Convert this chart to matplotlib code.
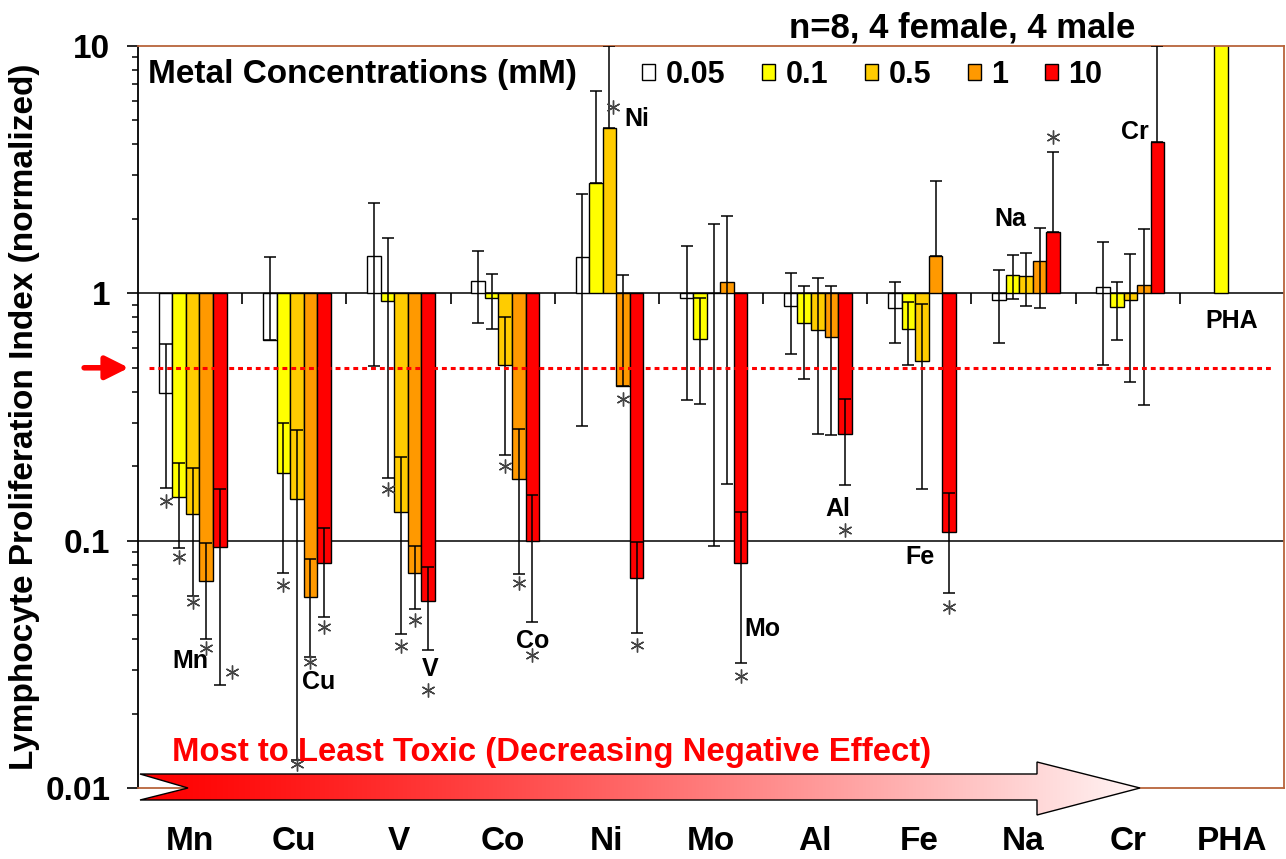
import numpy as np
import matplotlib
matplotlib.use('Agg')
import matplotlib.pyplot as plt
from matplotlib.patches import Polygon, Patch
from matplotlib.transforms import offset_copy
from matplotlib.ticker import NullFormatter

plt.rcParams['font.family'] = 'Liberation Sans'
plt.rcParams['font.weight'] = 'bold'
plt.rcParams['axes.labelweight'] = 'bold'

# ============================================================
# DATA (normalized index, mean and SD)
# ============================================================
metals = ['Mn', 'Cu', 'V', 'Co', 'Ni', 'Mo', 'Al', 'Fe', 'Na', 'Cr', 'PHA']
conc_labels = ['0.05', '0.1', '0.5', '1', '10']

nan = np.nan
mean_005 = [0.394, 0.646, 1.41, 1.12, 1.40, 0.96, 0.89, 0.872, 0.937, 1.065, nan]
mean_01  = [0.150, 0.187, 0.93, 0.955, 2.80, 0.656, 0.76, 0.72, 1.19, 0.88, 20.0]
mean_05  = [0.128, 0.147, 0.130, 0.512, 4.67, 1.0, 0.71, 0.532, 1.17, 0.94, nan]
mean_1   = [0.069, 0.059, 0.074, 0.178, 0.421, 1.11, 0.667, 1.42, 1.35, 1.084, nan]
mean_10  = [0.094, 0.081, 0.057, 0.100, 0.0705, 0.081, 0.271, 0.1085, 1.775, 4.10, nan]

sd_005 = [0.23, 0.75, 0.90, 0.36, 1.11, 0.59, 0.32, 0.24, 0.305, 0.55, nan]
sd_01  = [0.057, 0.113, 0.75, 0.24, 3.77, 0.30, 0.31, 0.205, 0.24, 0.235, nan]
sd_05  = [0.068, 0.134, 0.088, 0.29, 5.33, 0.905, 0.44, 0.37, 0.28, 0.50, nan]
sd_1   = [0.029, 0.025, 0.021, 0.105, 0.77, 0.94, 0.40, 1.43, 0.48, 0.73, nan]
sd_10  = [0.068, 0.032, 0.021, 0.053, 0.028, 0.049, 0.103, 0.047, 1.96, 5.90, nan]

means = [mean_005, mean_01, mean_05, mean_1, mean_10]
sds = [sd_005, sd_01, sd_05, sd_1, sd_10]

# significant results: (metal, concentration index, anchor)
signif = [('Mn', 0, 'low'), ('Mn', 1, 'low'), ('Mn', 2, 'low'), ('Mn', 3, 'low'), ('Mn', 4, 'low'),
          ('Cu', 1, 'low'), ('Cu', 2, 'low'), ('Cu', 3, 'low'), ('Cu', 4, 'low'),
          ('V', 1, 'low'), ('V', 2, 'low'), ('V', 3, 'low'), ('V', 4, 'low'),
          ('Co', 2, 'low'), ('Co', 3, 'low'), ('Co', 4, 'low'),
          ('Ni', 2, 'end'), ('Ni', 3, 'end'), ('Ni', 4, 'low'),
          ('Mo', 4, 'low'), ('Al', 4, 'low'), ('Fe', 4, 'low'), ('Na', 4, 'high')]

# ============================================================
# STYLE / LAYOUT
# ============================================================
bar_colors = ['white', '#FFFF00', '#FFCC00', '#FF9900', '#FF0000']
brown = '#B8643C'
W, H = 1286, 859
bw = 0.13
shift = 0.025

# star offsets in pixels (dx, dy) relative to anchor
star_off = {('Mn', 0): (0, -13), ('Mn', 1): (0, -9), ('Mn', 2): (0, -6), ('Mn', 3): (0, -9),
            ('Mn', 4): (12, 13), ('Cu', 1): (0, -12), ('Cu', 2): (0, -4), ('Cu', 3): (0, -5),
            ('Cu', 4): (0, -10), ('V', 1): (0, -11), ('V', 2): (0, -12), ('V', 3): (0, -11),
            ('V', 4): (0, -40), ('Co', 2): (0, -11), ('Co', 3): (0, -9), ('Co', 4): (0, -33),
            ('Ni', 2): (4, 21), ('Ni', 3): (0, -13), ('Ni', 4): (0, -12), ('Mo', 4): (0, -13),
            ('Al', 4): (0, -45), ('Fe', 4): (0, -14), ('Na', 4): (0, 15)}

# element name labels (x in category units, y in data units)
name_pos = {'Mn': (0.0, 0.0326), 'Cu': (1.23, 0.0268), 'V': (2.30, 0.0303), 'Co': (3.29, 0.0393),
            'Ni': (4.29, 5.05), 'Mo': (5.49, 0.0439), 'Al': (6.22, 0.134), 'Fe': (7.01, 0.0858),
            'Na': (7.87, 1.99), 'Cr': (9.07, 4.51), 'PHA': (10.0, 0.77)}

fig = plt.figure(figsize=(W / 100, H / 100), dpi=100)
ax = fig.add_axes([138 / W, 1 - 788 / H, 1146 / W, 742 / H])
ax.set_yscale('log')

x = np.arange(len(metals))

ax.axhline(1, color='black', lw=1.1, zorder=1)
ax.axhline(0.1, color='black', lw=1.1, zorder=1)

for j in range(5):
    v = np.array(means[j], float)
    e = np.array(sds[j], float)
    xs = x + (j - 2) * bw + shift
    ax.bar(xs, v - 1, bottom=1, width=bw, color=bar_colors[j],
           edgecolor='black', lw=1.0, zorder=2)
    lo = np.where(v - e > 0, e, 0.0)
    ok = ~np.isnan(e)
    ax.errorbar(xs[ok], v[ok], yerr=[lo[ok], e[ok]], fmt='none', ecolor='black',
                elinewidth=1.1, capsize=4, capthick=1.1, zorder=3)

# category tick marks on the axis at 1
ax.vlines(np.arange(0.5, 10), 0.905, 1.0, color='black', lw=1.2, zorder=3)

# threshold line at 0.5
ax.axhline(0.5, xmin=0.01, xmax=0.99, color='red', lw=2.2,
           linestyle=(0, (1.6, 1.3)), zorder=4)

# significance stars
for m, j, anchor in signif:
    i = metals.index(m)
    xs = i + (j - 2) * bw + shift
    v, e = means[j][i], sds[j][i]
    y = {'low': v - e, 'high': v + e, 'end': v}[anchor]
    dx, dy = star_off[(m, j)]
    tr = offset_copy(ax.transData, fig=fig, x=dx, y=dy, units='dots')
    ax.plot(xs, y, marker=(6, 2, 0), ms=10, mew=1.0, color='#444444',
            transform=tr, clip_on=False, zorder=5)

for m in metals:
    px, py = name_pos[m]
    ax.text(px, py, m, ha='center', va='center', fontsize=18, zorder=6)

ax.set_xlim(-0.5, 10.5)
ax.set_ylim(0.01, 10)
ax.set_yticks([0.01, 0.1, 1, 10])
ax.set_yticklabels(['0.01', '0.1', '1', '10'], fontsize=24)
ax.yaxis.set_minor_formatter(NullFormatter())
ax.tick_params(axis='y', which='major', length=8, width=1.2, pad=12, direction='out')
ax.tick_params(axis='y', which='minor', length=4.5, width=1.1, direction='out')
ax.set_xticks(x)
ax.set_xticklabels(metals, fontsize=24)
ax.tick_params(axis='x', length=0, pad=27)

for s in ['top', 'right', 'bottom']:
    ax.spines[s].set_color(brown)
    ax.spines[s].set_linewidth(1.3)
ax.spines['left'].set_linewidth(1.3)

ax.set_ylabel('Lymphocyte Proliferation Index (normalized)', fontsize=24)
ax.yaxis.set_label_coords(-0.0855, 0.5)

# legend
ax.text(0.0087, 0.961, 'Metal Concentrations (mM)', transform=ax.transAxes,
        ha='left', va='center', fontsize=24)
handles = [Patch(facecolor=c, edgecolor='black', lw=1.0) for c in bar_colors]
ax.legend(handles, conc_labels, ncol=5, loc='center left', bbox_to_anchor=(0.44, 0.961),
          frameon=False, fontsize=22, handlelength=0.42, handleheight=0.42,
          handletextpad=0.35, columnspacing=1.2, borderpad=0, borderaxespad=0)

fig.text(1135 / W, 1 - 28 / H, 'n=8, 4 female, 4 male', ha='right', va='center', fontsize=25)

# red pointer at 0.5
ax.annotate('', xy=(-0.008, 0.5), xytext=(-0.047, 0.5), xycoords=ax.get_yaxis_transform(),
            arrowprops=dict(arrowstyle='-|>', color='red', lw=4, mutation_scale=35,
                            shrinkA=0, shrinkB=0), annotation_clip=False)

ax.text(0.0297, 0.0485, 'Most to Least Toxic (Decreasing Negative Effect)', transform=ax.transAxes,
        ha='left', va='center', fontsize=23.7, color='red', zorder=7)

# gradient arrow along the bottom
ov = fig.add_axes([0, 0, 1, 1], zorder=3)
ov.patch.set_visible(False)
arrow_pts = [(140, 774), (1037, 774), (1037, 762), (1140, 788), (1037, 815),
             (1037, 800), (140, 800), (188, 788)]
g = np.linspace(0, 1, 256) ** 1.2
img = np.zeros((1, 256, 3))
img[0, :, 0] = 1.0
img[0, :, 1] = g * 0.96
img[0, :, 2] = g * 0.96
im = ov.imshow(img, extent=[140, 1140, 815, 762], aspect='auto', interpolation='bilinear')
poly = Polygon(arrow_pts, closed=True, facecolor='none', edgecolor='black', lw=1.0)
ov.add_patch(poly)
im.set_clip_path(poly)
ov.set_xlim(0, W)
ov.set_ylim(H, 0)
ov.axis('off')

fig.savefig('out.png', dpi=100)
